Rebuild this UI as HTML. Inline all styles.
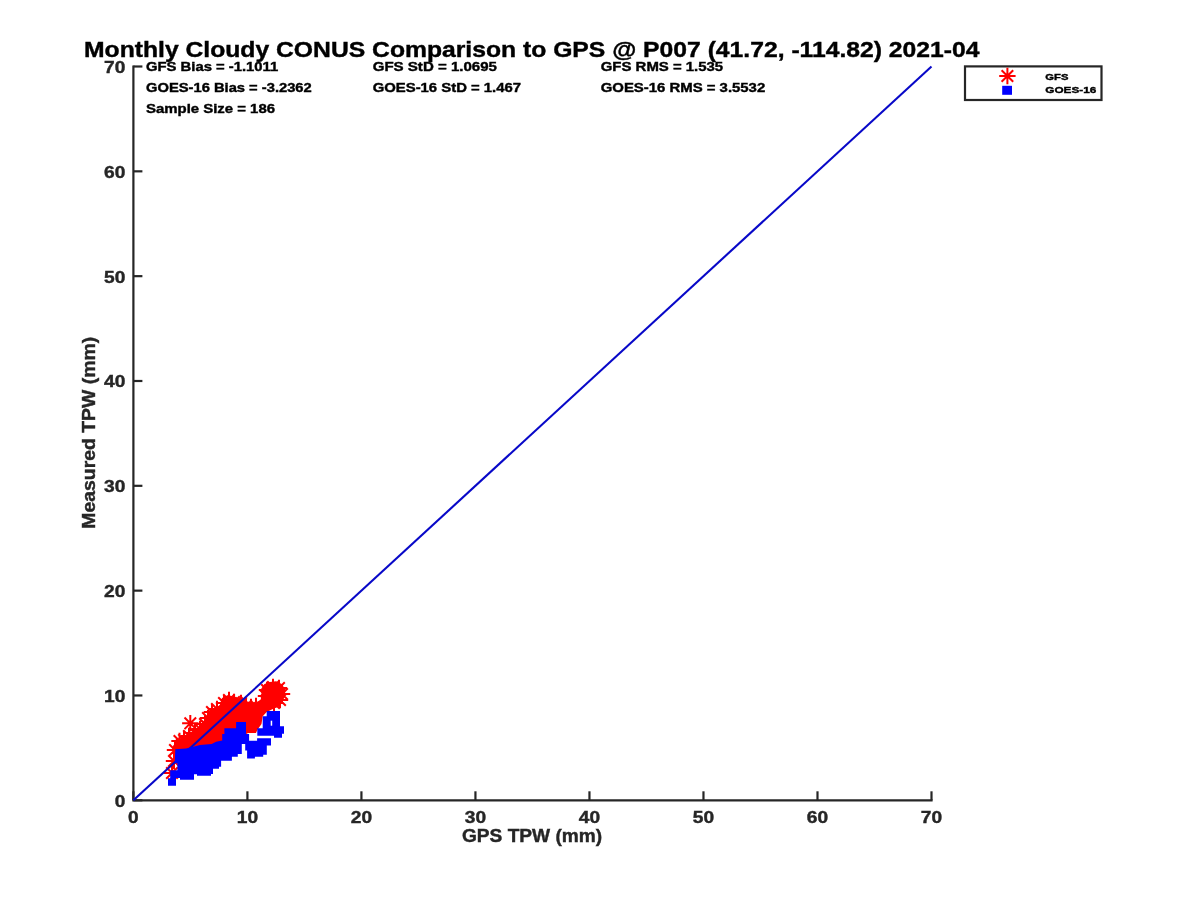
<!DOCTYPE html>
<html><head><meta charset="utf-8"><style>
html,body{margin:0;padding:0;background:#fff;}
svg{display:block;will-change:transform;}
text{font-family:"Liberation Sans",sans-serif;font-weight:bold;stroke-width:0.4px;}
</style></head><body>
<svg width="1200" height="900" viewBox="0 0 1200 900">
<rect width="1200" height="900" fill="#fff"/>
<path d="M133.40,66.50 V800.30 H931.50" fill="none" stroke="#262626" stroke-width="2.2" stroke-linecap="square"/><path d="M133.40,800.30 V791.30" stroke="#262626" stroke-width="2.2"/><path d="M133.40,800.30 H142.40" stroke="#262626" stroke-width="2.2"/><path d="M247.41,800.30 V791.30" stroke="#262626" stroke-width="2.2"/><path d="M133.40,695.47 H142.40" stroke="#262626" stroke-width="2.2"/><path d="M361.43,800.30 V791.30" stroke="#262626" stroke-width="2.2"/><path d="M133.40,590.64 H142.40" stroke="#262626" stroke-width="2.2"/><path d="M475.44,800.30 V791.30" stroke="#262626" stroke-width="2.2"/><path d="M133.40,485.81 H142.40" stroke="#262626" stroke-width="2.2"/><path d="M589.46,800.30 V791.30" stroke="#262626" stroke-width="2.2"/><path d="M133.40,380.99 H142.40" stroke="#262626" stroke-width="2.2"/><path d="M703.47,800.30 V791.30" stroke="#262626" stroke-width="2.2"/><path d="M133.40,276.16 H142.40" stroke="#262626" stroke-width="2.2"/><path d="M817.49,800.30 V791.30" stroke="#262626" stroke-width="2.2"/><path d="M133.40,171.33 H142.40" stroke="#262626" stroke-width="2.2"/><path d="M931.50,800.30 V791.30" stroke="#262626" stroke-width="2.2"/><path d="M133.40,66.50 H142.40" stroke="#262626" stroke-width="2.2"/>
<path d="M172.0,748.0 L176.0,742.0 L182.0,739.0 L187.0,734.5 L194.0,731.0 L199.5,726.5 L204.0,722.0 L207.0,716.0 L211.0,710.0 L215.0,707.5 L219.0,708.5 L220.5,703.0 L222.0,698.0 L228.0,695.0 L235.0,697.0 L238.5,698.5 L241.5,696.0 L246.0,701.0 L251.0,702.5 L256.0,702.4 L260.6,699.7 L261.7,695.8 L261.1,689.1 L264.4,684.1 L270.0,681.9 L276.1,681.3 L281.7,684.1 L285.0,689.1 L285.0,695.8 L282.2,702.4 L278.3,706.9 L273.9,708.6 L266.7,712.0 L262.7,716.3 L261.5,724.0 L257.3,730.0 L256.0,733.0 L248.0,733.0 L240.0,738.0 L225.0,746.0 L200.0,752.0 L180.0,755.0 L174.0,752.0Z" fill="#ff0000"/><path d="M166.8,750.0H183.2M175.0,741.8V758.2M169.2,744.2L180.8,755.8M169.2,755.8L180.8,744.2M171.3,741.0H187.7M179.5,732.8V749.2M173.7,735.2L185.3,746.8M173.7,746.8L185.3,735.2M175.8,740.0H192.2M184.0,731.8V748.2M178.2,734.2L189.8,745.8M178.2,745.8L189.8,734.2M180.8,736.0H197.2M189.0,727.8V744.2M183.2,730.2L194.8,741.8M183.2,741.8L194.8,730.2M186.8,733.0H203.2M195.0,724.8V741.2M189.2,727.2L200.8,738.8M189.2,738.8L200.8,727.2M191.8,729.0H208.2M200.0,720.8V737.2M194.2,723.2L205.8,734.8M194.2,734.8L205.8,723.2M196.8,724.0H213.2M205.0,715.8V732.2M199.2,718.2L210.8,729.8M199.2,729.8L210.8,718.2M199.8,718.0H216.2M208.0,709.8V726.2M202.2,712.2L213.8,723.8M202.2,723.8L213.8,712.2M203.8,712.0H220.2M212.0,703.8V720.2M206.2,706.2L217.8,717.8M206.2,717.8L217.8,706.2M208.8,709.0H225.2M217.0,700.8V717.2M211.2,703.2L222.8,714.8M211.2,714.8L222.8,703.2M215.8,703.0H232.2M224.0,694.8V711.2M218.2,697.2L229.8,708.8M218.2,708.8L229.8,697.2M220.8,700.0H237.2M229.0,691.8V708.2M223.2,694.2L234.8,705.8M223.2,705.8L234.8,694.2M225.8,702.0H242.2M234.0,693.8V710.2M228.2,696.2L239.8,707.8M228.2,707.8L239.8,696.2M232.8,703.0H249.2M241.0,694.8V711.2M235.2,697.2L246.8,708.8M235.2,708.8L246.8,697.2M237.8,706.0H254.2M246.0,697.8V714.2M240.2,700.2L251.8,711.8M240.2,711.8L251.8,700.2M242.8,707.0H259.2M251.0,698.8V715.2M245.2,701.2L256.8,712.8M245.2,712.8L256.8,701.2M247.8,706.0H264.2M256.0,697.8V714.2M250.2,700.2L261.8,711.8M250.2,711.8L261.8,700.2M258.8,690.0H275.2M267.0,681.8V698.2M261.2,684.2L272.8,695.8M261.2,695.8L272.8,684.2M264.8,687.0H281.2M273.0,678.8V695.2M267.2,681.2L278.8,692.8M267.2,692.8L278.8,681.2M270.8,688.0H287.2M279.0,679.8V696.2M273.2,682.2L284.8,693.8M273.2,693.8L284.8,682.2M273.8,694.0H290.2M282.0,685.8V702.2M276.2,688.2L287.8,699.8M276.2,699.8L287.8,688.2M271.8,700.0H288.2M280.0,691.8V708.2M274.2,694.2L285.8,705.8M274.2,705.8L285.8,694.2M265.8,703.0H282.2M274.0,694.8V711.2M268.2,697.2L279.8,708.8M268.2,708.8L279.8,697.2M260.8,697.0H277.2M269.0,688.8V705.2M263.2,691.2L274.8,702.8M263.2,702.8L274.8,691.2M266.8,694.0H283.2M275.0,685.8V702.2M269.2,688.2L280.8,699.8M269.2,699.8L280.8,688.2M257.8,696.0H274.2M266.0,687.8V704.2M260.2,690.2L271.8,701.8M260.2,701.8L271.8,690.2M182.1,723.3H198.5M190.3,715.1V731.5M184.5,717.5L196.1,729.1M184.5,729.1L196.1,717.5M165.8,761.0H182.2M174.0,752.8V769.2M168.2,755.2L179.8,766.8M168.2,766.8L179.8,755.2M163.8,773.0H180.2M172.0,764.8V781.2M166.2,767.2L177.8,778.8M166.2,778.8L177.8,767.2" stroke="#ff0000" stroke-width="2" fill="none"/>
<path d="M133.40,800.30 L931.50,66.50" stroke="#0808c8" stroke-width="2.1" fill="none"/>
<path d="M168.0,785.8 L168.0,778.3 L170.2,778.3 L170.2,770.3 L177.4,770.3 L177.4,763.3 L174.7,763.3 L175.3,749.3 L186.0,748.5 L193.3,746.7 L200.0,745.0 L211.7,743.9 L216.1,741.7 L222.2,740.6 L222.2,733.9 L224.4,733.9 L224.4,728.3 L236.1,728.3 L236.1,721.9 L246.0,721.9 L246.0,733.9 L249.1,733.9 L249.1,740.8 L257.1,740.8 L257.1,738.3 L271.0,738.3 L271.0,745.6 L266.8,745.6 L266.8,754.7 L263.2,754.7 L263.2,756.7 L254.9,756.7 L254.9,758.6 L247.1,758.6 L247.1,750.6 L245.2,750.6 L245.2,744.0 L241.8,744.0 L241.8,754.0 L237.8,754.0 L237.8,756.7 L231.9,756.7 L231.9,760.8 L221.1,760.8 L221.1,766.7 L219.0,766.7 L219.0,768.7 L213.0,768.7 L213.0,774.0 L211.0,774.0 L211.0,775.7 L197.0,775.7 L197.0,774.3 L194.0,774.3 L194.0,779.7 L180.0,779.7 L180.0,778.0 L176.0,778.0 L176.0,785.8Z" fill="#0000ff"/><path d="M266.7,711.0 L280.0,711.0 L280.0,726.3 L284.0,726.3 L284.0,733.7 L282.0,733.7 L282.0,737.7 L274.0,737.7 L274.0,735.7 L257.3,735.7 L257.3,728.3 L262.7,728.3 L262.7,716.3 L266.7,716.3Z" fill="#0000ff"/><rect x="270.7" y="720.7" width="1.5" height="5" fill="#fff"/>
<rect x="965" y="66.4" width="136.5" height="33.6" fill="#fff" stroke="#262626" stroke-width="2.2"/><path d="M999.20,76.00H1015.60M1007.40,67.80V84.20M1001.60,70.20L1013.20,81.80M1001.60,81.80L1013.20,70.20" stroke="#ff0000" stroke-width="2.0"/><rect x="1002.2" y="85.8" width="9.8" height="9.0" fill="#0000ff"/>
<text id="title" x="84.00" y="56.80" font-size="21.95" fill="#000000" stroke="#000000" textLength="895.49" lengthAdjust="spacingAndGlyphs">Monthly Cloudy CONUS Comparison to GPS @ P007 (41.72, -114.82) 2021-04</text><text id="s1" x="146.00" y="70.70" font-size="13.08" fill="#000000" stroke="#000000" textLength="132.25" lengthAdjust="spacingAndGlyphs">GFS Bias = -1.1011</text><text id="s2" x="146.00" y="91.70" font-size="13.08" fill="#000000" stroke="#000000" textLength="165.75" lengthAdjust="spacingAndGlyphs">GOES-16 Bias = -3.2362</text><text id="s3" x="146.00" y="112.70" font-size="13.08" fill="#000000" stroke="#000000" textLength="128.99" lengthAdjust="spacingAndGlyphs">Sample Size = 186</text><text id="s4" x="372.70" y="70.70" font-size="13.08" fill="#000000" stroke="#000000" textLength="124.29" lengthAdjust="spacingAndGlyphs">GFS StD = 1.0695</text><text id="s5" x="372.70" y="91.70" font-size="13.08" fill="#000000" stroke="#000000" textLength="148.34" lengthAdjust="spacingAndGlyphs">GOES-16 StD = 1.467</text><text id="s6" x="600.75" y="70.70" font-size="13.08" fill="#000000" stroke="#000000" textLength="122.43" lengthAdjust="spacingAndGlyphs">GFS RMS = 1.535</text><text id="s7" x="600.75" y="91.70" font-size="13.08" fill="#000000" stroke="#000000" textLength="164.43" lengthAdjust="spacingAndGlyphs">GOES-16 RMS = 3.5532</text><text id="xl" x="462.00" y="841.80" font-size="17.88" fill="#262626" stroke="#262626" textLength="140.21" lengthAdjust="spacingAndGlyphs">GPS TPW (mm)</text><text id="lg1" x="1045.30" y="79.70" font-size="9.74" fill="#000000" stroke="#000000" textLength="23.10" lengthAdjust="spacingAndGlyphs">GFS</text><text id="lg2" x="1045.30" y="92.70" font-size="9.74" fill="#000000" stroke="#000000" textLength="51.04" lengthAdjust="spacingAndGlyphs">GOES-16</text><text id="xt0" x="128.10" y="822.70" font-size="17.01" fill="#262626" stroke="#262626" textLength="10.62" lengthAdjust="spacingAndGlyphs">0</text><text id="yt0" x="114.70" y="806.65" font-size="17.01" fill="#262626" stroke="#262626" textLength="10.62" lengthAdjust="spacingAndGlyphs">0</text><text id="xt10" x="236.76" y="822.70" font-size="17.01" fill="#262626" stroke="#262626" textLength="21.34" lengthAdjust="spacingAndGlyphs">10</text><text id="yt10" x="104.00" y="701.82" font-size="17.01" fill="#262626" stroke="#262626" textLength="21.34" lengthAdjust="spacingAndGlyphs">10</text><text id="xt20" x="350.78" y="822.70" font-size="17.01" fill="#262626" stroke="#262626" textLength="21.34" lengthAdjust="spacingAndGlyphs">20</text><text id="yt20" x="104.00" y="596.99" font-size="17.01" fill="#262626" stroke="#262626" textLength="21.34" lengthAdjust="spacingAndGlyphs">20</text><text id="xt30" x="464.79" y="822.70" font-size="17.01" fill="#262626" stroke="#262626" textLength="21.34" lengthAdjust="spacingAndGlyphs">30</text><text id="yt30" x="104.00" y="492.16" font-size="17.01" fill="#262626" stroke="#262626" textLength="21.34" lengthAdjust="spacingAndGlyphs">30</text><text id="xt40" x="578.81" y="822.70" font-size="17.01" fill="#262626" stroke="#262626" textLength="21.34" lengthAdjust="spacingAndGlyphs">40</text><text id="yt40" x="104.00" y="387.34" font-size="17.01" fill="#262626" stroke="#262626" textLength="21.34" lengthAdjust="spacingAndGlyphs">40</text><text id="xt50" x="692.82" y="822.70" font-size="17.01" fill="#262626" stroke="#262626" textLength="21.34" lengthAdjust="spacingAndGlyphs">50</text><text id="yt50" x="104.00" y="282.51" font-size="17.01" fill="#262626" stroke="#262626" textLength="21.34" lengthAdjust="spacingAndGlyphs">50</text><text id="xt60" x="806.84" y="822.70" font-size="17.01" fill="#262626" stroke="#262626" textLength="21.34" lengthAdjust="spacingAndGlyphs">60</text><text id="yt60" x="104.00" y="177.68" font-size="17.01" fill="#262626" stroke="#262626" textLength="21.34" lengthAdjust="spacingAndGlyphs">60</text><text id="xt70" x="920.85" y="822.70" font-size="17.01" fill="#262626" stroke="#262626" textLength="21.34" lengthAdjust="spacingAndGlyphs">70</text><text id="yt70" x="104.00" y="72.85" font-size="17.01" fill="#262626" stroke="#262626" textLength="21.34" lengthAdjust="spacingAndGlyphs">70</text><text id="yl" transform="translate(94.90,528.70) rotate(-90)" x="0.00" y="0" font-size="17.88" fill="#262626" stroke="#262626" textLength="191.81" lengthAdjust="spacingAndGlyphs">Measured TPW (mm)</text>
</svg></body></html>
